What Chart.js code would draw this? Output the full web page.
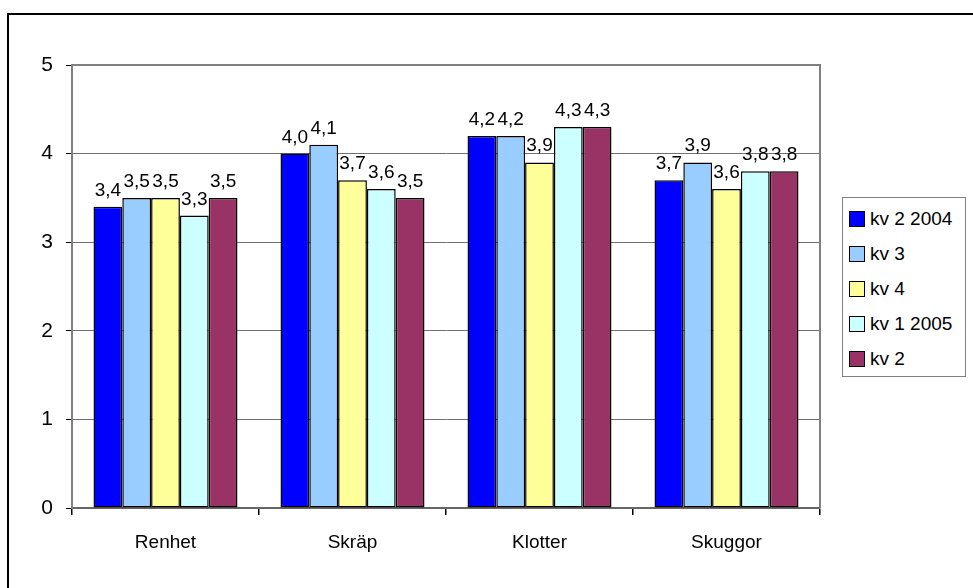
<!DOCTYPE html>
<html>
<head>
<meta charset="utf-8">
<script src="https://cdn.jsdelivr.net/npm/chart.js@4/dist/chart.umd.min.js"></script>
<style>
  html, body { margin: 0; padding: 0; background: #fff; }
  #wrap { position: relative; width: 973px; height: 588px; overflow: hidden; }
  #frame { position: absolute; left: 7px; top: 13px; width: 2000px; height: 2000px;
           border-left: 2px solid #000; border-top: 2px solid #000; }
  #grafica { position: absolute; left: 0; top: 0; }
  #leyenda { position: absolute; left: 842px; top: 197px; width: 122px; height: 178px;
             border: 1.5px solid #808080; background: #fff;
             font-family: "Liberation Sans", Arial, sans-serif; font-size: 19px; color: #000; }
  .item { position: absolute; left: 6px; height: 20px; line-height: 20px; white-space: nowrap; }
  .sw { display: inline-block; width: 14px; height: 14px; border: 1.5px solid #000;
        vertical-align: -2px; margin-right: 5px; }
</style>
</head>
<body>
<div id="wrap">
  <div id="frame"></div>
  <canvas id="grafica" width="973" height="588"></canvas>
  <div id="leyenda"></div>
</div>
<script>
// --- DATOS ---
const categorias = ['Renhet', 'Skräp', 'Klotter', 'Skuggor'];
const series = ['kv 2 2004', 'kv 3', 'kv 4', 'kv 1 2005', 'kv 2'];
const kv2_2004 = [3.4, 4.0, 4.2, 3.7];
const kv3 = [3.5, 4.1, 4.2, 3.9];
const kv4 = [3.5, 3.7, 3.9, 3.6];
const kv1_2005 = [3.3, 3.6, 4.3, 3.8];
const kv2 = [3.5, 3.5, 4.3, 3.8];
const yTicks = [0, 1, 2, 3, 4, 5];

const valores = [kv2_2004, kv3, kv4, kv1_2005, kv2];
const colores = ['#0000FF', '#99CCFF', '#FFFF99', '#CCFFFF', '#993366'];
const fuente = '"Liberation Sans", Arial, sans-serif';

// etiquetas encima de cada barra, con coma decimal
const etiquetas = {
    id: 'etiquetas',
    afterDatasetsDraw(chart) {
        const ctx = chart.ctx;
        ctx.save();
        ctx.font = '19px ' + fuente;
        ctx.fillStyle = '#000';
        ctx.textAlign = 'center';
        ctx.textBaseline = 'alphabetic';
        chart.data.datasets.forEach((ds, i) => {
            chart.getDatasetMeta(i).data.forEach((bar, j) => {
                ctx.fillText(ds.data[j].toFixed(1).replace('.', ','), bar.x, bar.y - 11);
            });
        });
        ctx.restore();
    }
};

// borde gris del área de trazado (arriba y derecha)
const bordeArea = {
    id: 'bordeArea',
    afterDraw(chart) {
        const a = chart.chartArea, ctx = chart.ctx;
        ctx.save();
        ctx.strokeStyle = '#808080';
        ctx.lineWidth = 2;
        ctx.beginPath();
        ctx.moveTo(a.left, a.top);
        ctx.lineTo(a.right, a.top);
        ctx.lineTo(a.right, a.bottom);
        ctx.stroke();
        ctx.restore();
    }
};

const ctx = document.getElementById('grafica').getContext('2d');
const chart = new Chart(ctx, {
    type: 'bar',
    data: {
        labels: categorias,
        datasets: series.map((s, i) => ({
            label: s,
            data: valores[i],
            backgroundColor: colores[i],
            borderColor: '#000',
            borderWidth: 1.5,
            borderSkipped: false,
            categoryPercentage: 0.77,
            barPercentage: 1.0
        }))
    },
    options: {
        responsive: false,
        animation: false,
        layout: { padding: { left: 0, top: 65, right: 153, bottom: 0 } },
        plugins: { legend: { display: false }, tooltip: { enabled: false } },
        scales: {
            x: {
                afterFit: s => { s.height = 80; },
                grid: { offset: true, drawOnChartArea: false, drawTicks: true, tickLength: 7, color: '#000', lineWidth: 1.5 },
                border: { color: '#666', width: 2 },
                ticks: { color: '#000', font: { family: fuente, size: 19 }, padding: 16 }
            },
            y: {
                min: 0, max: 5,
                afterFit: s => { s.width = 72; },
                afterBuildTicks: s => { s.ticks = yTicks.map(v => ({ value: v })); },
                grid: { color: '#707070', lineWidth: 1, tickLength: 6, tickColor: '#000' },
                border: { color: '#808080', width: 2 },
                ticks: { color: '#000', font: { family: fuente, size: 21 }, padding: 13 }
            }
        }
    },
    plugins: [etiquetas, bordeArea]
});

// --- LEYENDA ---
const ley = document.getElementById('leyenda');
series.forEach((s, i) => {
    const d = document.createElement('div');
    d.className = 'item';
    d.style.top = (11 + i * 35) + 'px';
    d.innerHTML = '<span class="sw" style="background:' + colores[i] + '"></span>' + s;
    ley.appendChild(d);
});
</script>
</body>
</html>
